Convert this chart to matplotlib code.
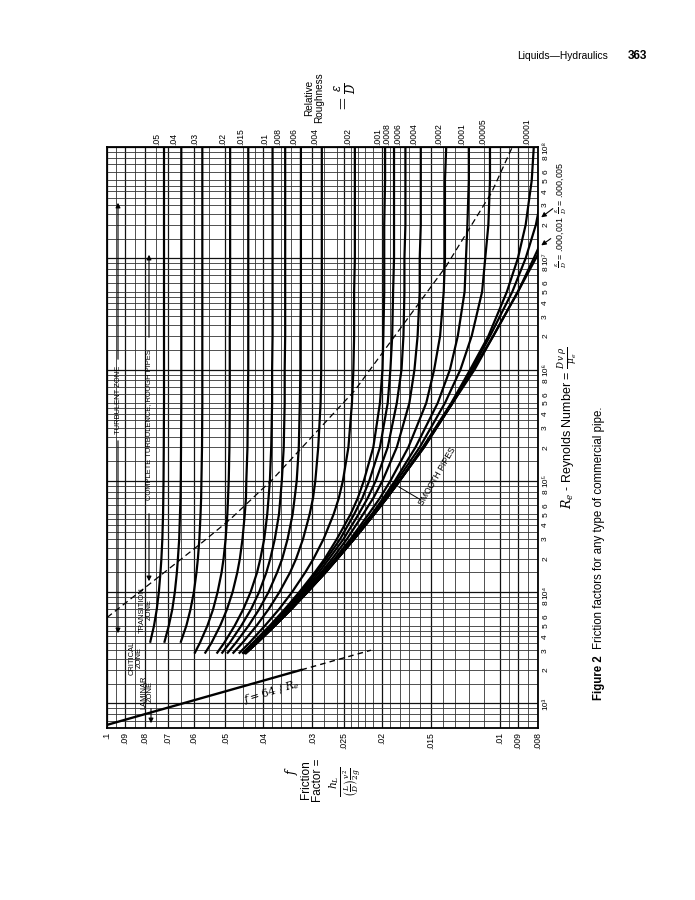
import matplotlib
matplotlib.use("Agg")
import matplotlib.pyplot as plt
import matplotlib.transforms as mtransforms
from matplotlib import font_manager
from matplotlib.ticker import NullLocator

# ---------------- values ----------------
# Reynolds numbers at which each curve was read
re_points = [2.8e3, 3.5e3, 5e3, 7e3, 1e4, 1.5e4, 2e4, 3e4, 5e4, 7e4,
             1e5, 2e5, 5e5, 1e6, 2e6, 5e6, 1e7, 2e7, 5e7, 1e8]

# relative roughness e/D of every curve, and where each curve begins
roughness = [0.05, 0.04, 0.03, 0.02, 0.015, 0.01, 0.008, 0.006, 0.004, 0.002,
             0.001, 0.0008, 0.0006, 0.0004, 0.0002, 0.0001, 0.00005, 0.00001,
             0.000005, 0.000001, 0.0]
roughness_labels = [".05", ".04", ".03", ".02", ".015", ".01", ".008", ".006",
                    ".004", ".002", ".001", ".0008", ".0006", ".0004", ".0002",
                    ".0001", ".00005", ".00001", None, None, None]
curve_start = [3500, 3500, 3500, 2800, 2800, 2800, 2800, 2800, 2800, 2800,
               2800, 2800, 2800, 2800, 2800, 2800, 2800, 2800, 2800, 2800, 2800]

# friction factor f along each curve (same order as re_points)
f_050 = [0.0791, 0.0777, 0.0759, 0.0747, 0.0738, 0.0731, 0.0727, 0.0723, 0.0720, 0.0719,
         0.0718, 0.0717, 0.0716, 0.0716, 0.0716, 0.0716, 0.0716, 0.0716, 0.0716, 0.0716]
f_040 = [0.0731, 0.0715, 0.0696, 0.0682, 0.0672, 0.0664, 0.0660, 0.0655, 0.0652, 0.0650,
         0.0649, 0.0648, 0.0647, 0.0647, 0.0647, 0.0647, 0.0647, 0.0647, 0.0647, 0.0647]
f_030 = [0.0667, 0.0650, 0.0628, 0.0613, 0.0601, 0.0592, 0.0587, 0.0582, 0.0578, 0.0576,
         0.0575, 0.0573, 0.0572, 0.0572, 0.0572, 0.0572, 0.0572, 0.0572, 0.0572, 0.0572]
f_020 = [0.0599, 0.0580, 0.0555, 0.0537, 0.0523, 0.0511, 0.0505, 0.0499, 0.0494, 0.0492,
         0.0490, 0.0488, 0.0487, 0.0487, 0.0487, 0.0486, 0.0486, 0.0486, 0.0486, 0.0486]
f_015 = [0.0564, 0.0542, 0.0515, 0.0495, 0.0479, 0.0466, 0.0459, 0.0452, 0.0446, 0.0443,
         0.0442, 0.0439, 0.0438, 0.0437, 0.0437, 0.0437, 0.0437, 0.0437, 0.0437, 0.0437]
f_010 = [0.0526, 0.0503, 0.0473, 0.0450, 0.0431, 0.0415, 0.0407, 0.0398, 0.0391, 0.0388,
         0.0385, 0.0382, 0.0380, 0.0380, 0.0379, 0.0379, 0.0379, 0.0379, 0.0379, 0.0379]
f_008 = [0.0511, 0.0487, 0.0455, 0.0430, 0.0410, 0.0393, 0.0384, 0.0374, 0.0365, 0.0362,
         0.0359, 0.0355, 0.0353, 0.0353, 0.0352, 0.0352, 0.0352, 0.0352, 0.0352, 0.0352]
f_006 = [0.0495, 0.0470, 0.0436, 0.0410, 0.0388, 0.0369, 0.0358, 0.0347, 0.0337, 0.0333,
         0.0329, 0.0325, 0.0323, 0.0322, 0.0322, 0.0321, 0.0321, 0.0321, 0.0321, 0.0321]
f_004 = [0.0479, 0.0452, 0.0416, 0.0388, 0.0364, 0.0342, 0.0330, 0.0317, 0.0305, 0.0299,
         0.0295, 0.0290, 0.0286, 0.0285, 0.0285, 0.0284, 0.0284, 0.0284, 0.0284, 0.0284]
f_002 = [0.0462, 0.0434, 0.0396, 0.0365, 0.0338, 0.0313, 0.0298, 0.0281, 0.0265, 0.0257,
         0.0251, 0.0243, 0.0238, 0.0236, 0.0235, 0.0235, 0.0234, 0.0234, 0.0234, 0.0234]
f_001 = [0.0453, 0.0425, 0.0385, 0.0353, 0.0324, 0.0296, 0.0279, 0.0260, 0.0240, 0.0230,
         0.0222, 0.0210, 0.0202, 0.0199, 0.0198, 0.0197, 0.0197, 0.0197, 0.0196, 0.0196]
f_0008 = [0.0451, 0.0423, 0.0383, 0.0350, 0.0321, 0.0293, 0.0276, 0.0255, 0.0235, 0.0224,
          0.0215, 0.0202, 0.0193, 0.0190, 0.0188, 0.0187, 0.0186, 0.0186, 0.0186, 0.0186]
f_0006 = [0.0450, 0.0421, 0.0381, 0.0348, 0.0318, 0.0289, 0.0272, 0.0250, 0.0229, 0.0217,
          0.0207, 0.0193, 0.0183, 0.0178, 0.0176, 0.0175, 0.0175, 0.0174, 0.0174, 0.0174]
f_0004 = [0.0448, 0.0419, 0.0378, 0.0345, 0.0315, 0.0285, 0.0267, 0.0245, 0.0223, 0.0210,
          0.0199, 0.0183, 0.0170, 0.0165, 0.0162, 0.0160, 0.0160, 0.0159, 0.0159, 0.0159]
f_0002 = [0.0446, 0.0417, 0.0376, 0.0343, 0.0312, 0.0282, 0.0263, 0.0240, 0.0216, 0.0202,
          0.0190, 0.0171, 0.0154, 0.0147, 0.0142, 0.0139, 0.0138, 0.0138, 0.0138, 0.0137]
f_0001 = [0.0445, 0.0416, 0.0375, 0.0341, 0.0310, 0.0280, 0.0261, 0.0238, 0.0212, 0.0198,
          0.0185, 0.0164, 0.0144, 0.0134, 0.0128, 0.0123, 0.0122, 0.0121, 0.0120, 0.0120]
f_00005 = [0.0445, 0.0416, 0.0374, 0.0341, 0.0310, 0.0279, 0.0260, 0.0236, 0.0211, 0.0196,
           0.0183, 0.0160, 0.0138, 0.0126, 0.0118, 0.0111, 0.0109, 0.0107, 0.0106, 0.0106]
f_00001 = [0.0445, 0.0415, 0.0374, 0.0340, 0.0309, 0.0278, 0.0259, 0.0235, 0.0209, 0.0194,
           0.0180, 0.0157, 0.0133, 0.0119, 0.0107, 0.0096, 0.0090, 0.0086, 0.0083, 0.0082]
f_000005 = [0.0445, 0.0415, 0.0374, 0.0340, 0.0309, 0.0278, 0.0259, 0.0235, 0.0209, 0.0194,
            0.0180, 0.0157, 0.0132, 0.0118, 0.0106, 0.0093, 0.0086, 0.0081, 0.0077, 0.0075]
f_000001 = [0.0445, 0.0415, 0.0374, 0.0340, 0.0309, 0.0278, 0.0259, 0.0235, 0.0209, 0.0194,
            0.0180, 0.0156, 0.0132, 0.0117, 0.0104, 0.0090, 0.0082, 0.0075, 0.0068, 0.0064]
f_smooth = [0.0445, 0.0415, 0.0374, 0.0340, 0.0309, 0.0278, 0.0259, 0.0235, 0.0209, 0.0194,
            0.0180, 0.0156, 0.0132, 0.0116, 0.0104, 0.0090, 0.0081, 0.0073, 0.0065, 0.0059]

curves = [f_050, f_040, f_030, f_020, f_015, f_010, f_008, f_006, f_004, f_002,
          f_001, f_0008, f_0006, f_0004, f_0002, f_0001, f_00005, f_00001,
          f_000005, f_000001, f_smooth]

# laminar line f = 64/Re (solid) and its dashed continuation
laminar_f = [0.1, 0.032]
laminar_re = [640, 2000]
laminar_dash_f = [0.032, 0.0213]
laminar_dash_re = [2000, 3000]

# dashed border of the complete-turbulence zone
border_f = [0.1, 0.0715, 0.0572, 0.0486, 0.0379, 0.0234, 0.0137, 0.0105, 0.0093]
border_re = [5.9e3, 1.5e4, 2.8e4, 4.5e4, 1.03e5, 6.5e5, 8.5e6, 3.9e7, 1.0e8]

# axes ticks and grid
f_ticks = [0.1, 0.09, 0.08, 0.07, 0.06, 0.05, 0.04, 0.03, 0.025, 0.02, 0.015,
           0.01, 0.009, 0.008]
f_ticklabels = [".1", ".09", ".08", ".07", ".06", ".05", ".04", ".03", ".025",
                ".02", ".015", ".01", ".009", ".008"]
f_grid = [0.008, 0.0085, 0.009, 0.0095, 0.01, 0.011, 0.012, 0.013, 0.014, 0.015,
          0.016, 0.017, 0.018, 0.019, 0.02, 0.021, 0.022, 0.023, 0.024, 0.025,
          0.026, 0.028, 0.03, 0.032, 0.034, 0.036, 0.038, 0.04, 0.042, 0.045,
          0.05, 0.055, 0.06, 0.065, 0.07, 0.075, 0.08, 0.085, 0.09, 0.095, 0.1]
re_decades = [3, 4, 5, 6, 7]
re_tick_mult = [1, 2, 3, 4, 5, 6, 8]
re_grid_mult = [1, 1.5, 2, 2.5, 3, 3.5, 4, 4.5, 5, 6, 7, 8, 9]
sup = {3: "³", 4: "⁴", 5: "⁵", 6: "⁶", 7: "⁷", 8: "⁸"}

re_ticks, re_ticklabels = [], []
for d in re_decades:
    for m in re_tick_mult:
        re_ticks.append(m * 10 ** d)
        re_ticklabels.append("10" + sup[d] if m == 1 else str(m))
re_ticks.append(1e8)
re_ticklabels.append("10" + sup[8])
re_grid = [m * 10 ** d for d in [2] + re_decades for m in re_grid_mult]
re_grid = [r for r in re_grid if 600 <= r <= 1e8] + [1e8]

# ---------------- style ----------------
installed = {f.name for f in font_manager.fontManager.ttflist}
cond = "Liberation Sans Narrow" if "Liberation Sans Narrow" in installed else "Liberation Sans"
plt.rcParams["font.family"] = [cond, "DejaVu Sans"]
plt.rcParams["mathtext.fontset"] = "dejavuserif"

W, H = 695, 900
fig = plt.figure(figsize=(W / 100, H / 100), dpi=100)
fig.patch.set_facecolor("white")


def fp(px, py):
    # reference page pixel -> figure fraction
    return px / W, 1 - py / H


ax = fig.add_axes([107 / W, 1 - 728 / H, 431 / W, 581 / H])
ax.set_xscale("log")
ax.set_yscale("log")
ax.set_xlim(0.1, 0.008)
ax.set_ylim(600, 1e8)

# grid
for v in f_grid:
    major = any(abs(v - t) < 1e-9 for t in f_ticks)
    ax.axvline(v, color="#111111" if major else "#333333", lw=0.9 if major else 0.6, zorder=1)
for v in re_grid:
    major = any(abs(v - 10 ** d) < 1e-6 for d in re_decades + [8])
    ax.axhline(v, color="#111111" if major else "#333333", lw=0.9 if major else 0.6, zorder=1)

# friction curves
for fvals, start in zip(curves, curve_start):
    pts = [(f, r) for f, r in zip(fvals, re_points) if r >= start]
    ax.plot([p[0] for p in pts], [p[1] for p in pts], color="black", lw=1.6,
            solid_capstyle="butt", zorder=3)

ax.plot(laminar_f, laminar_re, color="black", lw=1.7, zorder=3)
ax.plot(laminar_dash_f, laminar_dash_re, color="black", lw=1.0, ls=(0, (4, 3)), zorder=3)
ax.plot(border_f, border_re, color="black", lw=0.9, ls=(0, (5, 3)), zorder=3)

# ticks
ax.xaxis.set_minor_locator(NullLocator())
ax.yaxis.set_minor_locator(NullLocator())
ax.set_xticks(f_ticks)
ax.set_xticklabels(f_ticklabels, rotation=90, fontsize=6.2)
ax.yaxis.tick_right()
ax.set_yticks(re_ticks)
ax.set_yticklabels(re_ticklabels, rotation=90, fontsize=6, va="center")
ax.tick_params(length=0, pad=3)
for s in ax.spines.values():
    s.set_linewidth(1.3)

# relative roughness labels along the top
top = mtransforms.blended_transform_factory(ax.transData, ax.transAxes)
for lab, fvals in zip(roughness_labels, curves):
    if lab:
        ax.text(fvals[-1] * 1.045, 1.004, lab, transform=top, rotation=90,
                ha="center", va="bottom", fontsize=6.2)

# zone labels
zone_kw = dict(rotation=90, ha="center", va="center", fontsize=5.4, linespacing=1.0)
fig.text(*fp(118, 400), "TURBULENT ZONE", **zone_kw)
fig.text(*fp(149, 425), "COMPLETE TURBULENCE, ROUGH PIPES", **zone_kw)
fig.text(*fp(136, 658), "CRITICAL\nZONE", **zone_kw)
fig.text(*fp(146, 610), "TRANSITION\nZONE", **zone_kw)
fig.text(*fp(147, 692), "LAMINAR\nZONE", **zone_kw)

arrow_kw = dict(arrowstyle="-|>", lw=0.8, color="black", mutation_scale=7)
for a, b in [((118, 362), (118, 200)), ((118, 438), (118, 636)),
             ((149, 340), (149, 252)), ((149, 511), (149, 584)),
             ((151, 706), (151, 726))]:
    fig.add_artist(matplotlib.patches.FancyArrowPatch(fp(*a), fp(*b), transform=fig.transFigure,
                                                      **arrow_kw))

fig.text(*fp(272, 692), r"$f = 64\ /\ R_e$", rotation=17, ha="center", va="center", fontsize=8)
fig.text(*fp(437, 476), "SMOOTH PIPES", rotation=60, ha="center", va="center", fontsize=6.2)
fig.add_artist(matplotlib.lines.Line2D([fp(421, 500)[0], fp(399, 487)[0]],
                                       [fp(421, 500)[1], fp(399, 487)[1]],
                                       color="black", lw=0.7, transform=fig.transFigure))

# small-roughness callouts at the right
fig.text(*fp(561, 188), r"$\frac{\epsilon}{D}$ = .000,005", rotation=90, ha="center", va="center",
         fontsize=6.4)
fig.text(*fp(561, 242), r"$\frac{\epsilon}{D}$ = .000,001", rotation=90, ha="center", va="center",
         fontsize=6.4)
for a, b in [((555, 207), (539, 219)), ((553, 237), (539, 247))]:
    fig.add_artist(matplotlib.patches.FancyArrowPatch(fp(*a), fp(*b), transform=fig.transFigure,
                                                      **arrow_kw))

# axis titles
fig.text(*fp(314, 98), "Relative\nRoughness", rotation=90, ha="center", va="center",
         fontsize=7.2, linespacing=1.0)
fig.text(*fp(346, 98), r"$=\frac{\epsilon}{D}$", rotation=90, ha="center", va="center", fontsize=12)
fig.text(*fp(291, 770), r"$f$", rotation=90, ha="center", va="center", fontsize=9)
fig.text(*fp(312, 780), "Friction\nFactor =", rotation=90, ha="center", va="center",
         fontsize=8.5, linespacing=1.0)
fig.text(*fp(346, 782), r"$\frac{h_L}{\left(\frac{L}{D}\right)\frac{v^2}{2g}}$", rotation=90,
         ha="center", va="center", fontsize=11)
fig.text(*fp(567, 428), r"$R_e$ - Reynolds Number = $\frac{D\,v\,\rho}{\mu_e}$", rotation=90,
         ha="center", va="center", fontsize=9)

# page header and caption
fig.text(*fp(517, 56), "Liquids\u2014Hydraulics", ha="left", va="center", fontsize=7.4,
         family="Liberation Sans")
fig.text(*fp(628, 56), "363", ha="left", va="center", fontsize=8.5, fontweight="bold",
         family="Liberation Sans")
fig.text(*fp(599, 700), "Figure 2", rotation=90, ha="center", va="bottom", fontsize=8.3,
         fontweight="bold", family="Liberation Sans")
fig.text(*fp(599, 649), "Friction factors for any type of commercial pipe.", rotation=90,
         ha="center", va="bottom", fontsize=8.3, family="Liberation Sans")

fig.savefig("out.png", dpi=100, facecolor="white")
